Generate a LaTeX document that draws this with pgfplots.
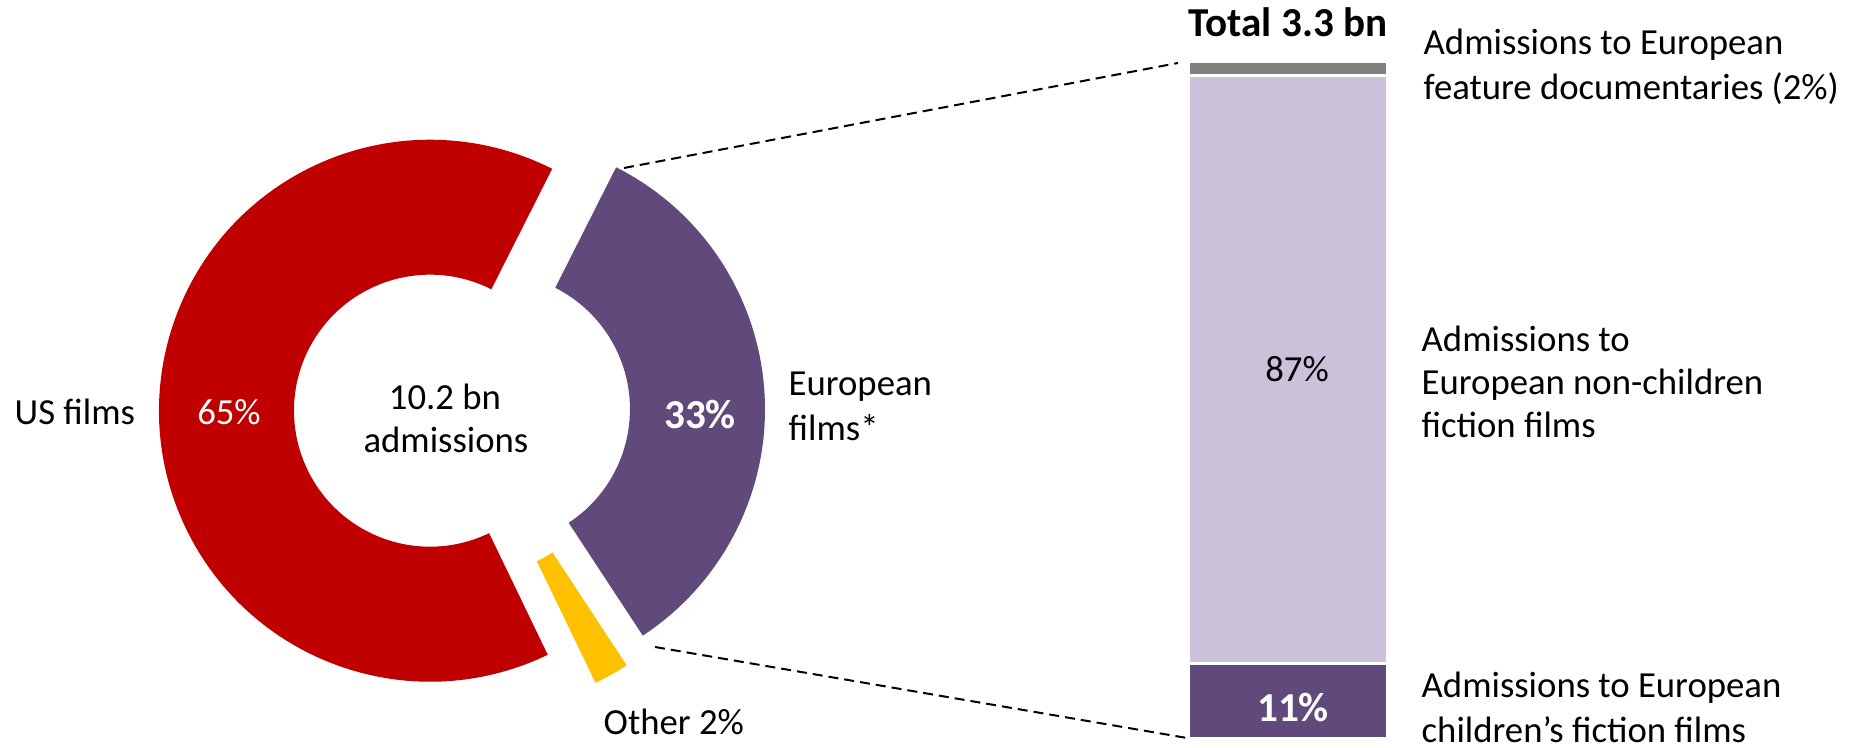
\documentclass[border=0pt]{standalone}
\usepackage{fontspec}
\setmainfont{Carlito}
\usepackage{pgfplots}
\usepackage{pgfplotstable}
\pgfplotsset{compat=1.18}

\definecolor{usred}{HTML}{C00000}
\definecolor{eupurple}{HTML}{604A7B}
\definecolor{lightpurple}{HTML}{CCC1DA}
\definecolor{othyellow}{HTML}{FFC000}
\definecolor{docgrey}{HTML}{808080}

% shares of the 10.2 bn admissions (%), clockwise from the European slice
\pgfplotstableread{
cat share
European 33.3
Other 2.1
US 64.6
}\donutdata

% split of the 3.3 bn European admissions (%)
\pgfplotstableread{
x children fiction docs
0 11 87 2
}\bardata

\newcommand\donutsector[5]{%
  \fill[#1] ([shift={(#2:27.1mm)}]axis cs:#4,#5)
    arc[start angle=#2, end angle=#3, radius=27.1mm]
    -- ([shift={(#3:13.6mm)}]axis cs:#4,#5)
    arc[start angle=#3, end angle=#2, radius=13.6mm] -- cycle;}

\newcommand\txt{\fontsize{10.45pt}{12.5pt}\selectfont}
\newcommand\btxt{\fontsize{11.7pt}{14pt}\selectfont\bfseries}

\begin{document}
\begin{tikzpicture}
\useasboundingbox (0,0) rectangle (185.2mm,74.8mm);

\pgfplotstablegetelem{0}{share}\of\donutdata\edef\sEU{\pgfplotsretval}
\pgfplotstablegetelem{1}{share}\of\donutdata\edef\sOT{\pgfplotsretval}
\pgfplotstablegetelem{2}{share}\of\donutdata\edef\sUS{\pgfplotsretval}
\pgfmathsetmacro\aA{63.2}
\pgfmathsetmacro\aB{\aA-3.6*\sEU}
\pgfmathsetmacro\aC{\aB-3.6*\sOT}
\pgfmathsetmacro\aD{\aC-3.6*\sUS}
\pgfmathsetmacro\mEU{(\aA+\aB)/2}
\pgfmathsetmacro\mOT{(\aB+\aC)/2}
\pgfmathsetmacro\mUS{(\aC+\aD)/2}
\pgfmathsetmacro\xEU{462+32*cos(\mEU)}\pgfmathsetmacro\yEU{337+32*sin(\mEU)}
\pgfmathsetmacro\xOT{462+32*cos(\mOT)}\pgfmathsetmacro\yOT{337+32*sin(\mOT)}
\pgfmathsetmacro\xUS{462+32*cos(\mUS)}\pgfmathsetmacro\yUS{337+32*sin(\mUS)}

\begin{axis}[
  at={(0,0)}, anchor=south west,
  width=185.2mm, height=74.8mm, scale only axis,
  xmin=0, xmax=1852, ymin=0, ymax=748,
  hide axis, clip=false]
  \donutsector{eupurple}{\aA}{\aB}{\xEU}{\yEU}
  \donutsector{othyellow}{\aB}{\aC}{\xOT}{\yOT}
  \donutsector{usred}{\aC}{\aD}{\xUS}{\yUS}

  \draw[black, line width=0.2mm, dash pattern=on 1mm off 0.6mm]
    (axis cs:624,580) -- (axis cs:1178,685);
  \draw[black, line width=0.2mm, dash pattern=on 1mm off 0.6mm]
    (axis cs:655,101) -- (axis cs:1187,10);

  \node[anchor=base west, inner sep=0pt] at (axis cs:14,323) {\txt US films};
  \node[anchor=base, inner sep=0pt, text=white] at (axis cs:229,323) {\txt 65\%};
  \node[anchor=base, inner sep=0pt] at (axis cs:445,338) {\txt 10.2 bn};
  \node[anchor=base, inner sep=0pt] at (axis cs:446,295) {\txt admissions};
  \node[anchor=base, inner sep=0pt, text=white] at (axis cs:700,319) {\btxt 33\%};
  \node[anchor=base west, inner sep=0pt] at (axis cs:788,352) {\txt European};
  \node[anchor=base west, inner sep=0pt] at (axis cs:788,307) {\txt films*};
  \node[anchor=base west, inner sep=0pt] at (axis cs:603,13) {\txt Other 2\%};

  \node[anchor=base, inner sep=0pt] at (axis cs:1288,711) {\btxt Total 3.3 bn};

  \node[anchor=base west, inner sep=0pt] at (axis cs:1423,693) {\txt Admissions to European};
  \node[anchor=base west, inner sep=0pt] at (axis cs:1423,648) {\txt feature documentaries (2\%)};
  \node[anchor=base west, inner sep=0pt] at (axis cs:1421,396) {\txt Admissions to};
  \node[anchor=base west, inner sep=0pt] at (axis cs:1421,353) {\txt European non-children};
  \node[anchor=base west, inner sep=0pt] at (axis cs:1421,310) {\txt fiction films};
  \node[anchor=base west, inner sep=0pt] at (axis cs:1421,50) {\txt Admissions to European};
  \node[anchor=base west, inner sep=0pt] at (axis cs:1421,5) {\txt children’s fiction films};
\end{axis}

\begin{axis}[
  at={(118.9mm,1.0mm)}, anchor=south west,
  width=19.8mm, height=67.6mm, scale only axis,
  xmin=-0.5, xmax=0.5, ymin=0, ymax=100,
  hide axis, clip=false,
  ybar stacked, bar width=19.8mm]
  \addplot[fill=eupurple, draw=white, line width=0.25mm] table[x=x, y=children]{\bardata};
  \addplot[fill=lightpurple, draw=white, line width=0.25mm] table[x=x, y=fiction]{\bardata};
  \addplot[fill=docgrey, draw=white, line width=0.25mm] table[x=x, y=docs]{\bardata};
\end{axis}

% labels on top of the stacked bar
\node[anchor=base, inner sep=0pt] at (129.7mm,36.6mm) {\txt 87\%};
\node[anchor=base, inner sep=0pt, text=white] at (129.3mm,2.6mm) {\btxt 11\%};
\end{tikzpicture}
\end{document}
